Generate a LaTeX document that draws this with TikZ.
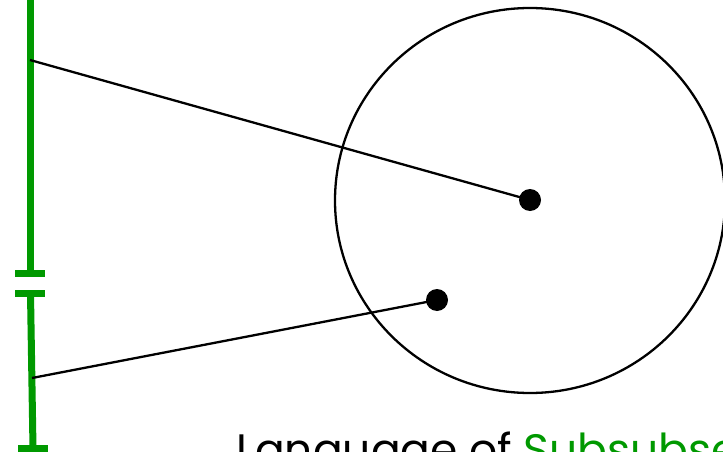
\documentclass[tikz,border=0pt]{standalone}
\usepackage{fontspec}
\setmainfont{Poppins}
\usetikzlibrary{shapes.geometric}
\definecolor{gline}{RGB}{0,153,0}
\tikzset{
  greenbar/.style={draw=gline, line width=7pt},
  connector/.style={draw=black, line width=2.3pt},
  dot/.style={circle, fill=black, minimum size=22pt, inner sep=0pt},
  bigcircle/.style={ellipse, draw=black, line width=2.3pt, minimum width=390pt, minimum height=385pt, inner sep=0pt},
}
\begin{document}
\begin{tikzpicture}[x=1pt,y=-1pt]
\useasboundingbox (0,0) rectangle (723,452);
\clip (0,0) rectangle (723,452);
\fill[white] (0,0) rectangle (723,452);
% green vertical bar
\draw[greenbar] (30,-10) -- (30,273);
\draw[greenbar] (15,273) -- (45,273);
\draw[greenbar] (15,293.5) -- (45,293.5);
\draw[greenbar] (30.5,293.5) -- (33,448.5);
\draw[greenbar] (18,448.5) -- (48,448.5);
\coordinate (a) at (30,60);
\coordinate (b) at (32,378);
% circle and dots
\node[bigcircle] (c) at (530,200.5) {};
\node[dot] (p) at (530,200) {};
\node[dot] (q) at (437,300) {};
\draw[connector] (a) -- (p.center);
\draw[connector] (b) -- (q.center);
% label
\node[anchor=base west, inner sep=0pt, font=\fontsize{44}{52}\selectfont] (t) at (236,465) {Language of \textcolor{gline}{Subsubsets}};
\end{tikzpicture}
\end{document}
